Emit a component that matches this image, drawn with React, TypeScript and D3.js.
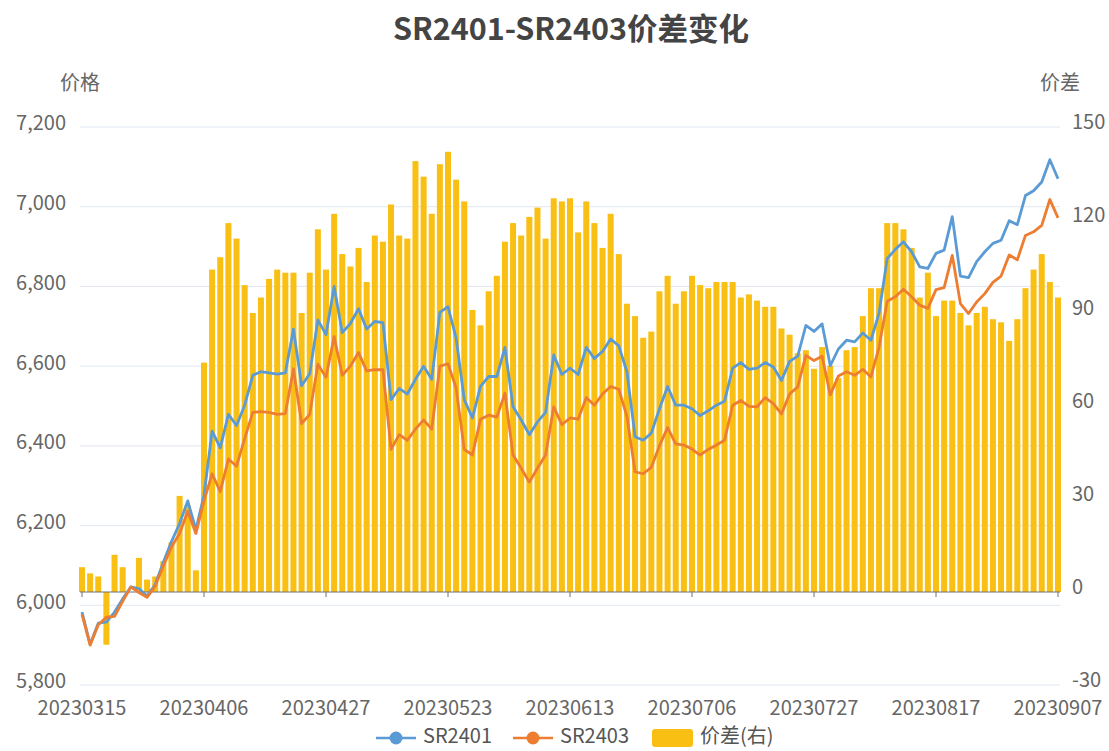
import * as d3 from "d3";
import { useEffect, useRef } from "react";

// trading days 2023-03-15 .. 2023-09-07
const dates = [
  "20230315", "20230316", "20230317", "20230320", "20230321", "20230322", "20230323", "20230324", "20230327", "20230328",
  "20230329", "20230330", "20230331", "20230403", "20230404", "20230406", "20230407", "20230410", "20230411", "20230412",
  "20230413", "20230414", "20230417", "20230418", "20230419", "20230420", "20230421", "20230424", "20230425", "20230426",
  "20230427", "20230428", "20230504", "20230505", "20230508", "20230509", "20230510", "20230511", "20230512", "20230515",
  "20230516", "20230517", "20230518", "20230519", "20230522", "20230523", "20230524", "20230525", "20230526", "20230529",
  "20230530", "20230531", "20230601", "20230602", "20230605", "20230606", "20230607", "20230608", "20230609", "20230612",
  "20230613", "20230614", "20230615", "20230616", "20230619", "20230620", "20230621", "20230626", "20230627", "20230628",
  "20230629", "20230630", "20230703", "20230704", "20230705", "20230706", "20230707", "20230710", "20230711", "20230712",
  "20230713", "20230714", "20230717", "20230718", "20230719", "20230720", "20230721", "20230724", "20230725", "20230726",
  "20230727", "20230728", "20230731", "20230801", "20230802", "20230803", "20230804", "20230807", "20230808", "20230809",
  "20230810", "20230811", "20230814", "20230815", "20230816", "20230817", "20230818", "20230821", "20230822", "20230823",
  "20230824", "20230825", "20230828", "20230829", "20230830", "20230831", "20230901", "20230904", "20230905", "20230906",
  "20230907",
];

const sr2401 = [
  5983, 5902, 5955, 5958, 5983, 6016, 6046, 6042, 6023, 6052,
  6108, 6160, 6205, 6262, 6190, 6276, 6437, 6395, 6479, 6451,
  6502, 6577, 6586, 6583, 6580, 6583, 6693, 6551, 6581, 6716,
  6679, 6800, 6684, 6707, 6744, 6693, 6712, 6709, 6516, 6544,
  6530, 6567, 6600, 6567, 6735, 6749, 6670, 6516, 6470, 6549,
  6574, 6574, 6647, 6498, 6465, 6428, 6460, 6484, 6628, 6579,
  6595, 6579, 6647, 6619, 6637, 6668, 6651, 6586, 6423, 6414,
  6432, 6493, 6549, 6502, 6502, 6493, 6476, 6488, 6502, 6512,
  6595, 6609, 6592, 6595, 6609, 6598, 6564, 6612, 6625, 6702,
  6687, 6706, 6601, 6643, 6665, 6661, 6683, 6665, 6733, 6870,
  6893, 6912, 6887, 6849, 6845, 6883, 6891, 6975, 6826, 6822,
  6862, 6887, 6908, 6916, 6965, 6955, 7028, 7040, 7062, 7118,
  7070,
];

const sr2403 = [
  5977, 5900, 5951, 5970, 5972, 6010, 6046, 6032, 6020, 6048,
  6099, 6146, 6180, 6236, 6180, 6262, 6330, 6285, 6367, 6349,
  6418, 6484, 6486, 6484, 6479, 6481, 6593, 6456, 6479, 6605,
  6572, 6674, 6577, 6600, 6634, 6588, 6591, 6591, 6391, 6428,
  6414, 6442, 6465, 6442, 6600, 6606, 6545, 6391, 6377, 6467,
  6477, 6472, 6532, 6377, 6344, 6309, 6344, 6377, 6498, 6453,
  6470, 6467, 6521, 6502, 6530, 6549, 6542, 6474, 6335, 6330,
  6346, 6400, 6446, 6405, 6402, 6392, 6377, 6391, 6402, 6414,
  6502, 6514, 6499, 6498, 6521, 6506, 6480, 6530, 6548, 6627,
  6614, 6625, 6528, 6575, 6586, 6577, 6592, 6573, 6648, 6763,
  6774, 6793, 6774, 6753, 6745, 6792, 6797, 6878, 6757, 6732,
  6761, 6782, 6810, 6826, 6879, 6867, 6928, 6937, 6953, 7018,
  6972,
];

// 价差 (right axis)
const spread = [
  8, 6, 5, -17, 12, 8, 0, 11, 4, 5,
  10, 16, 31, 28, 7, 74, 104, 108, 119, 114,
  99, 90, 95, 101, 104, 103, 103, 90, 103, 117,
  104, 122, 109, 105, 111, 100, 115, 113, 125, 115,
  114, 139, 134, 122, 138, 142, 133, 126, 91, 86,
  97, 102, 113, 119, 115, 121, 124, 114, 127, 126,
  127, 116, 126, 119, 111, 122, 109, 93, 89, 82,
  84, 97, 102, 93, 97, 102, 99, 98, 100, 100,
  100, 95, 96, 94, 92, 92, 85, 83, 77, 78,
  72, 79, 73, 69, 78, 79, 89, 98, 98, 119,
  119, 117, 111, 95, 103, 89, 94, 94, 90, 86,
  90, 92, 88, 87, 81, 88, 98, 104, 109, 100,
  95,
];

const leftTicks = [5800, 6000, 6200, 6400, 6600, 6800, 7000, 7200];
const rightTicks = [-30, 0, 30, 60, 90, 120, 150];
const labelEvery = 15;

const blue = "#5B9BD5";
const orange = "#ED7D31";
const gold = "#F9BF12";
const font = "'Microsoft YaHei', 'Noto Sans CJK SC', sans-serif";

export default function App() {
  const ref = useRef<SVGSVGElement>(null);

  useEffect(() => {
    document.body.style.margin = "0";
    const svg = d3.select(ref.current);
    svg.selectAll("*").remove();

    const plotLeft = 80;
    const plotRight = 1060;
    const plotTop = 127;
    const plotBottom = 685;

    const x = d3.scalePoint<string>().domain(dates).range([82, 1058]);
    const yL = d3.scaleLinear().domain([5800, 7200]).range([plotBottom, plotTop]);
    const yR = d3.scaleLinear().domain([-30, 150]).range([plotBottom, plotTop]);

    // title
    svg
      .append("text")
      .attr("x", 571)
      .attr("y", 32)
      .attr("text-anchor", "middle")
      .attr("dominant-baseline", "middle")
      .attr("font-size", 30.5)
      .attr("font-weight", "bold")
      .attr("fill", "#444")
      .text("SR2401-SR2403价差变化");

    // grid
    svg
      .append("g")
      .selectAll("line")
      .data(leftTicks)
      .join("line")
      .attr("x1", plotLeft)
      .attr("x2", plotRight)
      .attr("y1", (d) => yL(d))
      .attr("y2", (d) => yL(d))
      .attr("stroke", "#E0E6F1");

    // left axis labels
    svg
      .append("g")
      .selectAll("text")
      .data(leftTicks)
      .join("text")
      .attr("x", 66)
      .attr("y", (d) => yL(d) - 2)
      .attr("text-anchor", "end")
      .attr("dominant-baseline", "middle")
      .attr("font-size", 20)
      .attr("fill", "#666")
      .text((d) => d3.format(",")(d));

    // right axis labels
    svg
      .append("g")
      .selectAll("text")
      .data(rightTicks)
      .join("text")
      .attr("x", 1072)
      .attr("y", (d) => yR(d) - 3)
      .attr("text-anchor", "start")
      .attr("dominant-baseline", "middle")
      .attr("font-size", 20)
      .attr("fill", "#666")
      .text((d) => d);

    // axis names
    svg
      .append("text")
      .attr("x", plotLeft)
      .attr("y", 85)
      .attr("text-anchor", "middle")
      .attr("dominant-baseline", "middle")
      .attr("font-size", 20)
      .attr("fill", "#666")
      .text("价格");
    svg
      .append("text")
      .attr("x", plotRight)
      .attr("y", 85)
      .attr("text-anchor", "middle")
      .attr("dominant-baseline", "middle")
      .attr("font-size", 20)
      .attr("fill", "#666")
      .text("价差");

    // bars
    const barW = 6;
    svg
      .append("g")
      .attr("fill", gold)
      .selectAll("rect")
      .data(spread)
      .join("rect")
      .attr("x", (d, i) => (x(dates[i]) as number) - barW / 2)
      .attr("width", barW)
      .attr("y", (d) => Math.min(yR(d), yR(0)))
      .attr("height", (d) => Math.abs(yR(d) - yR(0)));

    // x axis
    const y0 = yR(0);
    const xAxis = svg.append("g");
    xAxis
      .append("line")
      .attr("x1", plotLeft)
      .attr("x2", plotRight)
      .attr("y1", y0)
      .attr("y2", y0)
      .attr("stroke", "#6E7079");
    const shown = dates.filter((d, i) => i % labelEvery === 0);
    xAxis
      .selectAll("line.tick")
      .data(shown)
      .join("line")
      .attr("class", "tick")
      .attr("x1", (d) => x(d) as number)
      .attr("x2", (d) => x(d) as number)
      .attr("y1", y0)
      .attr("y2", y0 + 5)
      .attr("stroke", "#6E7079");
    xAxis
      .selectAll("text")
      .data(shown)
      .join("text")
      .attr("x", (d) => x(d) as number)
      .attr("y", 710)
      .attr("text-anchor", "middle")
      .attr("dominant-baseline", "middle")
      .attr("font-size", 20)
      .attr("fill", "#666")
      .text((d) => d);

    // lines
    const line = d3
      .line<number>()
      .x((d, i) => x(dates[i]) as number)
      .y((d) => yL(d));
    svg
      .append("path")
      .datum(sr2401)
      .attr("d", line)
      .attr("fill", "none")
      .attr("stroke", blue)
      .attr("stroke-width", 2.8)
      .attr("stroke-linejoin", "round");
    svg
      .append("path")
      .datum(sr2403)
      .attr("d", line)
      .attr("fill", "none")
      .attr("stroke", orange)
      .attr("stroke-width", 2.8)
      .attr("stroke-linejoin", "round");

    // legend
    const ly = 738;
    const legend = svg.append("g").attr("font-size", 20).attr("fill", "#555");
    const lineItems = [
      { name: "SR2401", color: blue, x0: 376 },
      { name: "SR2403", color: orange, x0: 513 },
    ];
    lineItems.forEach((it) => {
      legend
        .append("line")
        .attr("x1", it.x0)
        .attr("x2", it.x0 + 40)
        .attr("y1", ly)
        .attr("y2", ly)
        .attr("stroke", it.color)
        .attr("stroke-width", 2.5);
      legend
        .append("circle")
        .attr("cx", it.x0 + 20)
        .attr("cy", ly)
        .attr("r", 6.5)
        .attr("fill", it.color);
      legend
        .append("text")
        .attr("x", it.x0 + 47)
        .attr("y", ly)
        .attr("dominant-baseline", "middle")
        .text(it.name);
    });
    legend
      .append("rect")
      .attr("x", 652)
      .attr("y", ly - 9)
      .attr("width", 41)
      .attr("height", 18)
      .attr("rx", 3)
      .attr("fill", gold);
    legend
      .append("text")
      .attr("x", 700)
      .attr("y", ly)
      .attr("dominant-baseline", "middle")
      .text("价差(右)");
  }, []);

  return (
    <svg
      ref={ref}
      width={1109}
      height={751}
      style={{ display: "block", fontFamily: font, background: "#fff" }}
    />
  );
}
